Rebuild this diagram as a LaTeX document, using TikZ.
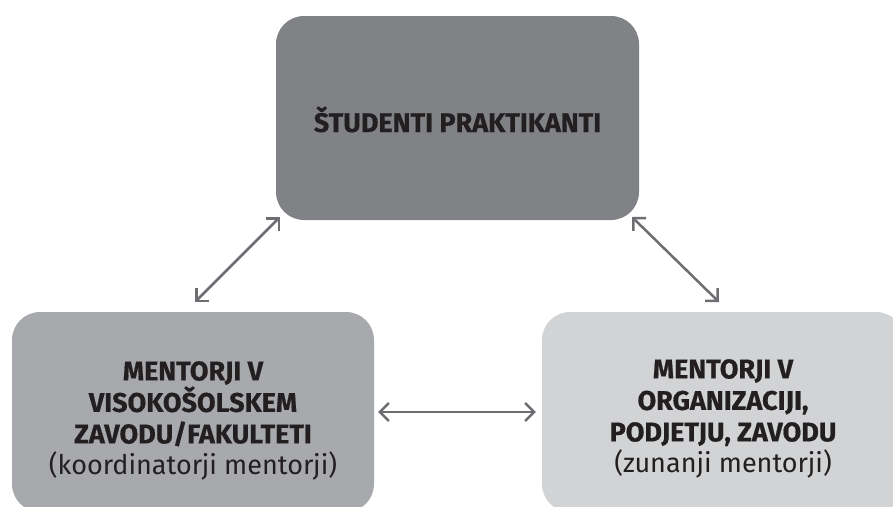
\documentclass[tikz,border=0pt]{standalone}
\usepackage{fontspec}
\setmainfont{Fira Sans}[BoldFeatures={FakeBold=0.6}]
\usetikzlibrary{arrows.meta}
\definecolor{topfill}{HTML}{808285}
\definecolor{leftfill}{HTML}{A7A9AC}
\definecolor{rightfill}{HTML}{D1D3D4}
\definecolor{txt}{HTML}{231F20}
\definecolor{arr}{HTML}{6D6E71}
\tikzset{
  panel/.style={rectangle, rounded corners=28pt, draw=none, inner sep=0pt},
  lbl/.style={text=txt, inner sep=0pt, align=center, font=\fontsize{27}{31.5}\selectfont},
  link/.style={draw=arr, line width=2.5pt,
    {Straight Barb[length=9pt,width=18pt,line width=2.5pt]}-{Straight Barb[length=9pt,width=18pt,line width=2.5pt]}}
}
\begin{document}
\begin{tikzpicture}[x=1pt,y=-1pt]
\useasboundingbox (0,0) rectangle (893,506);
\clip (0,0) rectangle (893,506);
\fill[white] (0,0) rectangle (893,506);
\node[panel, fill=topfill, minimum width=363pt, minimum height=204pt] (top) at (457.5,118) {};
\node[panel, fill=leftfill, minimum width=362pt, minimum height=200pt] (left) at (193,412) {};
\node[panel, fill=rightfill, minimum width=362pt, minimum height=200pt] (right) at (723,412) {};
\node[lbl, anchor=base] (toptext) at (457.5,132) {\bfseries ŠTUDENTI PRAKTIKANTI};
\node[lbl, anchor=north] (lefttext) at (193,361) {\bfseries MENTORJI V\\\bfseries VISOKOŠOLSKEM\\\bfseries ZAVODU/FAKULTETI\\(koordinatorji mentorji)};
\node[lbl, anchor=north] (righttext) at (723,359) {\bfseries MENTORJI V\\\bfseries ORGANIZACIJI,\\\bfseries PODJETJU, ZAVODU\\(zunanji mentorji)};
\coordinate (a1) at (280,217);
\coordinate (a2) at (195,302);
\coordinate (b1) at (632,217);
\coordinate (b2) at (719,302);
\draw[link] (a1) -- (a2);
\draw[link] (b1) -- (b2);
\draw[link] ([xshift=4pt]left.east) -- ([xshift=-6pt]right.west);
\end{tikzpicture}
\end{document}
